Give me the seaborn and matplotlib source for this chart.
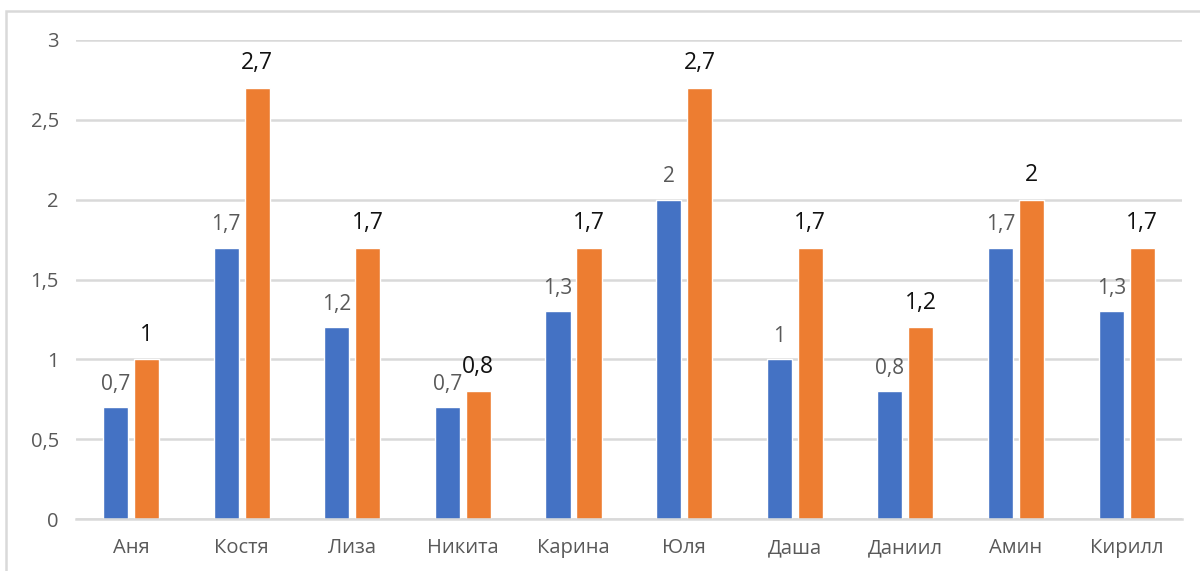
import pandas as pd
import matplotlib.pyplot as plt
import seaborn as sns
from matplotlib.patches import Rectangle

names = ["Аня", "Костя", "Лиза", "Никита", "Карина", "Юля", "Даша", "Даниил", "Амин", "Кирилл"]
blue_vals = [0.7, 1.7, 1.2, 0.7, 1.3, 2.0, 1.0, 0.8, 1.7, 1.3]
orange_vals = [1.0, 2.7, 1.7, 0.8, 1.7, 2.7, 1.7, 1.2, 2.0, 1.7]
series = ["Ряд 1", "Ряд 2"]
y_ticks = [0, 0.5, 1, 1.5, 2, 2.5, 3]

df = pd.DataFrame({
    "name": names * 2,
    "value": blue_vals + orange_vals,
    "series": [series[0]] * len(names) + [series[1]] * len(names),
})

sns.set_style("white")
plt.rcParams["font.family"] = ["Open Sans", "DejaVu Sans"]

fig = plt.figure(figsize=(12, 5.71), dpi=100)
ax = fig.add_axes([0.063, 0.091, 0.922, 0.839])

sns.barplot(data=df, x="name", y="value", hue="series",
            palette=["#4472C4", "#ED7D31"], saturation=1, width=0.56, gap=0.19,
            legend=False, ax=ax)

ax.set_ylim(0, 3)
ax.set_xlim(-0.5, len(names) - 0.5)
ax.set_yticks(y_ticks)
ax.set_yticklabels([("%g" % t).replace(".", ",") for t in y_ticks])
ax.yaxis.grid(True, color="#d9d9d9", linewidth=1.8)
ax.set_axisbelow(True)
for s in ["top", "right", "left"]:
    ax.spines[s].set_visible(False)
ax.spines["bottom"].set_color("#d9d9d9")
ax.spines["bottom"].set_linewidth(1.8)
ax.tick_params(axis="both", length=0, colors="#595959", labelsize=14.5)
ax.tick_params(axis="x", pad=14)
ax.tick_params(axis="y", pad=12)
ax.set_xlabel("")
ax.set_ylabel("")

def fmt(v):
    return ("%g" % v).replace(".", ",")

blue_c, orange_c = ax.containers[0], ax.containers[1]
ax.bar_label(blue_c, labels=[fmt(v) for v in blue_vals], padding=9,
             color="#595959", fontsize=15)
ax.bar_label(orange_c, labels=[fmt(v) for v in orange_vals], padding=9,
             color="#111111", fontsize=16.5, fontweight="medium")

fig.patches.append(Rectangle((6 / 1200, -0.1), 1.2, 1 - 11 / 571 + 0.1,
                             transform=fig.transFigure, fill=False,
                             edgecolor="#d9d9d9", linewidth=1.8))

fig.savefig("out.png", dpi=100)
